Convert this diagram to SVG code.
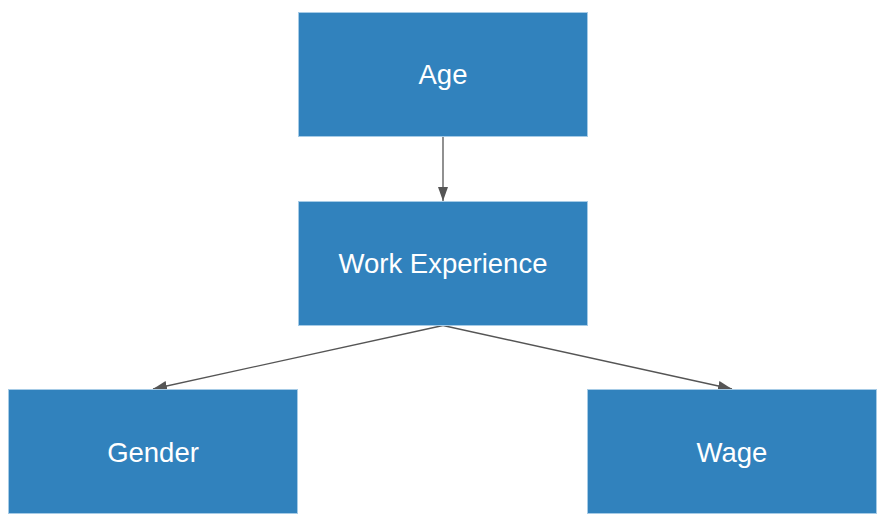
<svg xmlns="http://www.w3.org/2000/svg" width="888" height="526" viewBox="0 0 888 526">
<style>
.box{fill:#3182bd;stroke:#a6cbe6;stroke-width:1}
.lbl{font-family:"Liberation Sans",Arial,sans-serif;font-size:27.5px;fill:#ffffff;text-anchor:middle}
.edge{stroke:#555555;stroke-width:1.3;fill:none}
</style>
<defs>
<marker id="arr" viewBox="0 0 14 10" refX="14" refY="5" markerWidth="14" markerHeight="10" markerUnits="userSpaceOnUse" orient="auto">
<path d="M0,0 L14,5 L0,10 Z" fill="#555555"/>
</marker>
</defs>
<rect width="888" height="526" fill="#ffffff"/>
<g id="connectors">
<line class="edge" x1="443" y1="136.5" x2="443" y2="201" marker-end="url(#arr)"/>
<line class="edge" x1="443" y1="325.5" x2="153" y2="389" marker-end="url(#arr)"/>
<line class="edge" x1="443" y1="325.5" x2="732" y2="389" marker-end="url(#arr)"/>
</g>
<g id="node-age">
<rect class="box" x="298.5" y="12.5" width="289" height="124"/>
<text class="lbl" x="443" y="84">Age</text>
</g>
<g id="node-work-experience">
<rect class="box" x="298.5" y="201.5" width="289" height="124"/>
<text class="lbl" x="443" y="273">Work Experience</text>
</g>
<g id="node-gender">
<rect class="box" x="8.5" y="389.5" width="289" height="124"/>
<text class="lbl" x="153" y="462">Gender</text>
</g>
<g id="node-wage">
<rect class="box" x="587.5" y="389.5" width="289" height="124"/>
<text class="lbl" x="732" y="462">Wage</text>
</g>
</svg>
